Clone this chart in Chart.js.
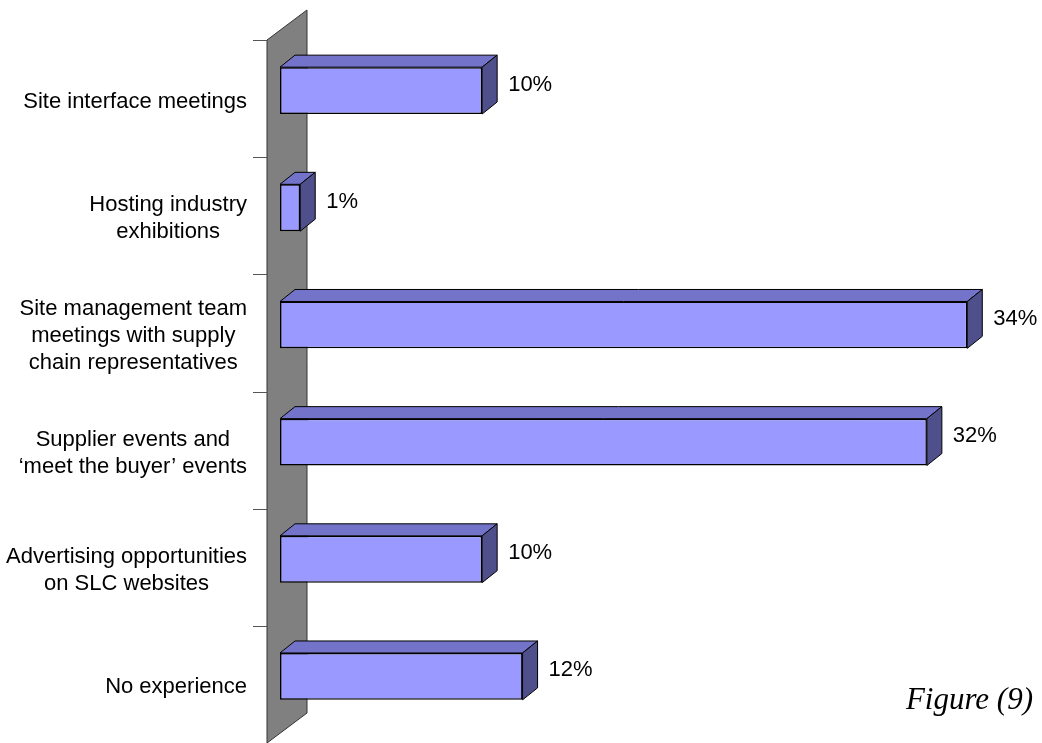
<!DOCTYPE html>
<html>
<head>
<meta charset="utf-8">
<script src="https://cdn.jsdelivr.net/npm/chart.js@4.4.1/dist/chart.umd.min.js"></script>
<style>
  body { margin: 0; background: #fff; }
  #wrap { width: 1042px; height: 743px; position: relative; }
</style>
</head>
<body>
<div id="wrap"><canvas id="myChart"></canvas></div>
<script>
//Data
const categories = [
  ["Site interface meetings"],
  ["Hosting industry", "exhibitions"],
  ["Site management team", "meetings with supply", "chain representatives"],
  ["Supplier events and", "\u2018meet the buyer\u2019 events"],
  ["Advertising opportunities", "on SLC websites"],
  ["No experience"],
];
const percentages = [10, 1, 34, 32, 10, 12];
const valueLabels = ["10%", "1%", "34%", "32%", "10%", "12%"];
const figureCaption = "Figure (9)";

//3d look
const barDepth = { dx: 15, dy: -12 };   // depth of each bar
const wallDepth = { dx: 40, dy: -30 };  // full depth of the side wall
const barInset = { dx: 13, dy: -8 };    // bars sit this far back from the front plane

const labelFont = "22px 'Liberation Sans', Arial, sans-serif";

const ctx = document.querySelector("#myChart").getContext("2d");

function poly(c, pts, fill) {
  c.beginPath();
  c.moveTo(pts[0][0], pts[0][1]);
  for (let i = 1; i < pts.length; i++) c.lineTo(pts[i][0], pts[i][1]);
  c.closePath();
  c.fillStyle = fill;
  c.fill();
  c.stroke();
}

const threeD = {
  id: "threeD",
  beforeDatasetsDraw(chart) {
    const c = chart.ctx;
    const yScale = chart.scales.y;
    const area = chart.chartArea;
    const wx = area.left - barInset.dx;
    const top = area.top - barInset.dy;
    const bottom = area.bottom - barInset.dy;

    c.save();
    // side wall
    c.strokeStyle = "#333";
    c.lineWidth = 1;
    poly(c, [
      [wx, top],
      [wx + wallDepth.dx, top + wallDepth.dy],
      [wx + wallDepth.dx, bottom + wallDepth.dy],
      [wx, bottom],
    ], "#808080");

    // tick marks between categories
    const step = (bottom - top) / categories.length;
    c.strokeStyle = "#555";
    for (let i = 0; i <= categories.length; i++) {
      const ty = Math.round(top + i * step) + 0.5;
      c.beginPath();
      c.moveTo(wx - 14, ty);
      c.lineTo(wx, ty);
      c.stroke();
    }

    // category labels, centred lines, block right aligned to the wall
    c.font = labelFont;
    c.fillStyle = "#000";
    c.textAlign = "center";
    c.textBaseline = "middle";
    const lineH = 27;
    categories.forEach((lines, i) => {
      const cy = yScale.getPixelForValue(i) - barInset.dy + 3;
      const maxW = Math.max(...lines.map((l) => c.measureText(l).width));
      const cx = wx - 20 - maxW / 2;
      lines.forEach((line, j) => {
        c.fillText(line, cx, cy + (j - (lines.length - 1) / 2) * lineH);
      });
    });
    c.restore();
  },
  afterDatasetsDraw(chart) {
    const c = chart.ctx;
    const meta = chart.getDatasetMeta(0);
    c.save();
    c.strokeStyle = "#000";
    c.lineWidth = 1;
    c.lineJoin = "round";
    meta.data.forEach((bar, i) => {
      const p = bar.getProps(["x", "y", "base", "height"], true);
      const t = p.y - p.height / 2;
      const b = p.y + p.height / 2;
      //top face
      poly(c, [
        [p.base, t],
        [p.base + barDepth.dx, t + barDepth.dy],
        [p.x + barDepth.dx, t + barDepth.dy],
        [p.x, t],
      ], "#7373C9");
      //end face
      poly(c, [
        [p.x, t],
        [p.x + barDepth.dx, t + barDepth.dy],
        [p.x + barDepth.dx, b + barDepth.dy],
        [p.x, b],
      ], "#4F4F8C");

      //value label
      c.font = labelFont;
      c.fillStyle = "#000";
      c.textAlign = "left";
      c.textBaseline = "middle";
      c.fillText(valueLabels[i], p.x + barDepth.dx + 11, p.y + barDepth.dy / 2);
    });
    c.restore();
  },
  afterDraw(chart) {
    const c = chart.ctx;
    c.save();
    c.font = "italic 31px 'Liberation Serif', 'Times New Roman', serif";
    c.fillStyle = "#000";
    c.textAlign = "right";
    c.textBaseline = "alphabetic";
    c.fillText(figureCaption, 1033, 709);
    c.restore();
  },
};

var myChart = new Chart(ctx, {
  type: "bar",
  data: {
    labels: categories,
    datasets: [
      {
        data: percentages,
        backgroundColor: "#9999FF",
        borderColor: "#000",
        borderWidth: 1.5,
        borderSkipped: false,
        barPercentage: 0.4,
        categoryPercentage: 1,
      },
    ],
  },
  options: {
    indexAxis: "y",
    responsive: true,
    maintainAspectRatio: false,
    animation: false,
    layout: {
      padding: { left: 280, top: 32, bottom: 8, right: 8 },
    },
    plugins: {
      legend: { display: false },
      tooltip: { enabled: false },
    },
    scales: {
      x: { display: false, min: 0, max: 37.3 },
      y: { display: false, offset: true },
    },
  },
  plugins: [threeD],
});
</script>
</body>
</html>
